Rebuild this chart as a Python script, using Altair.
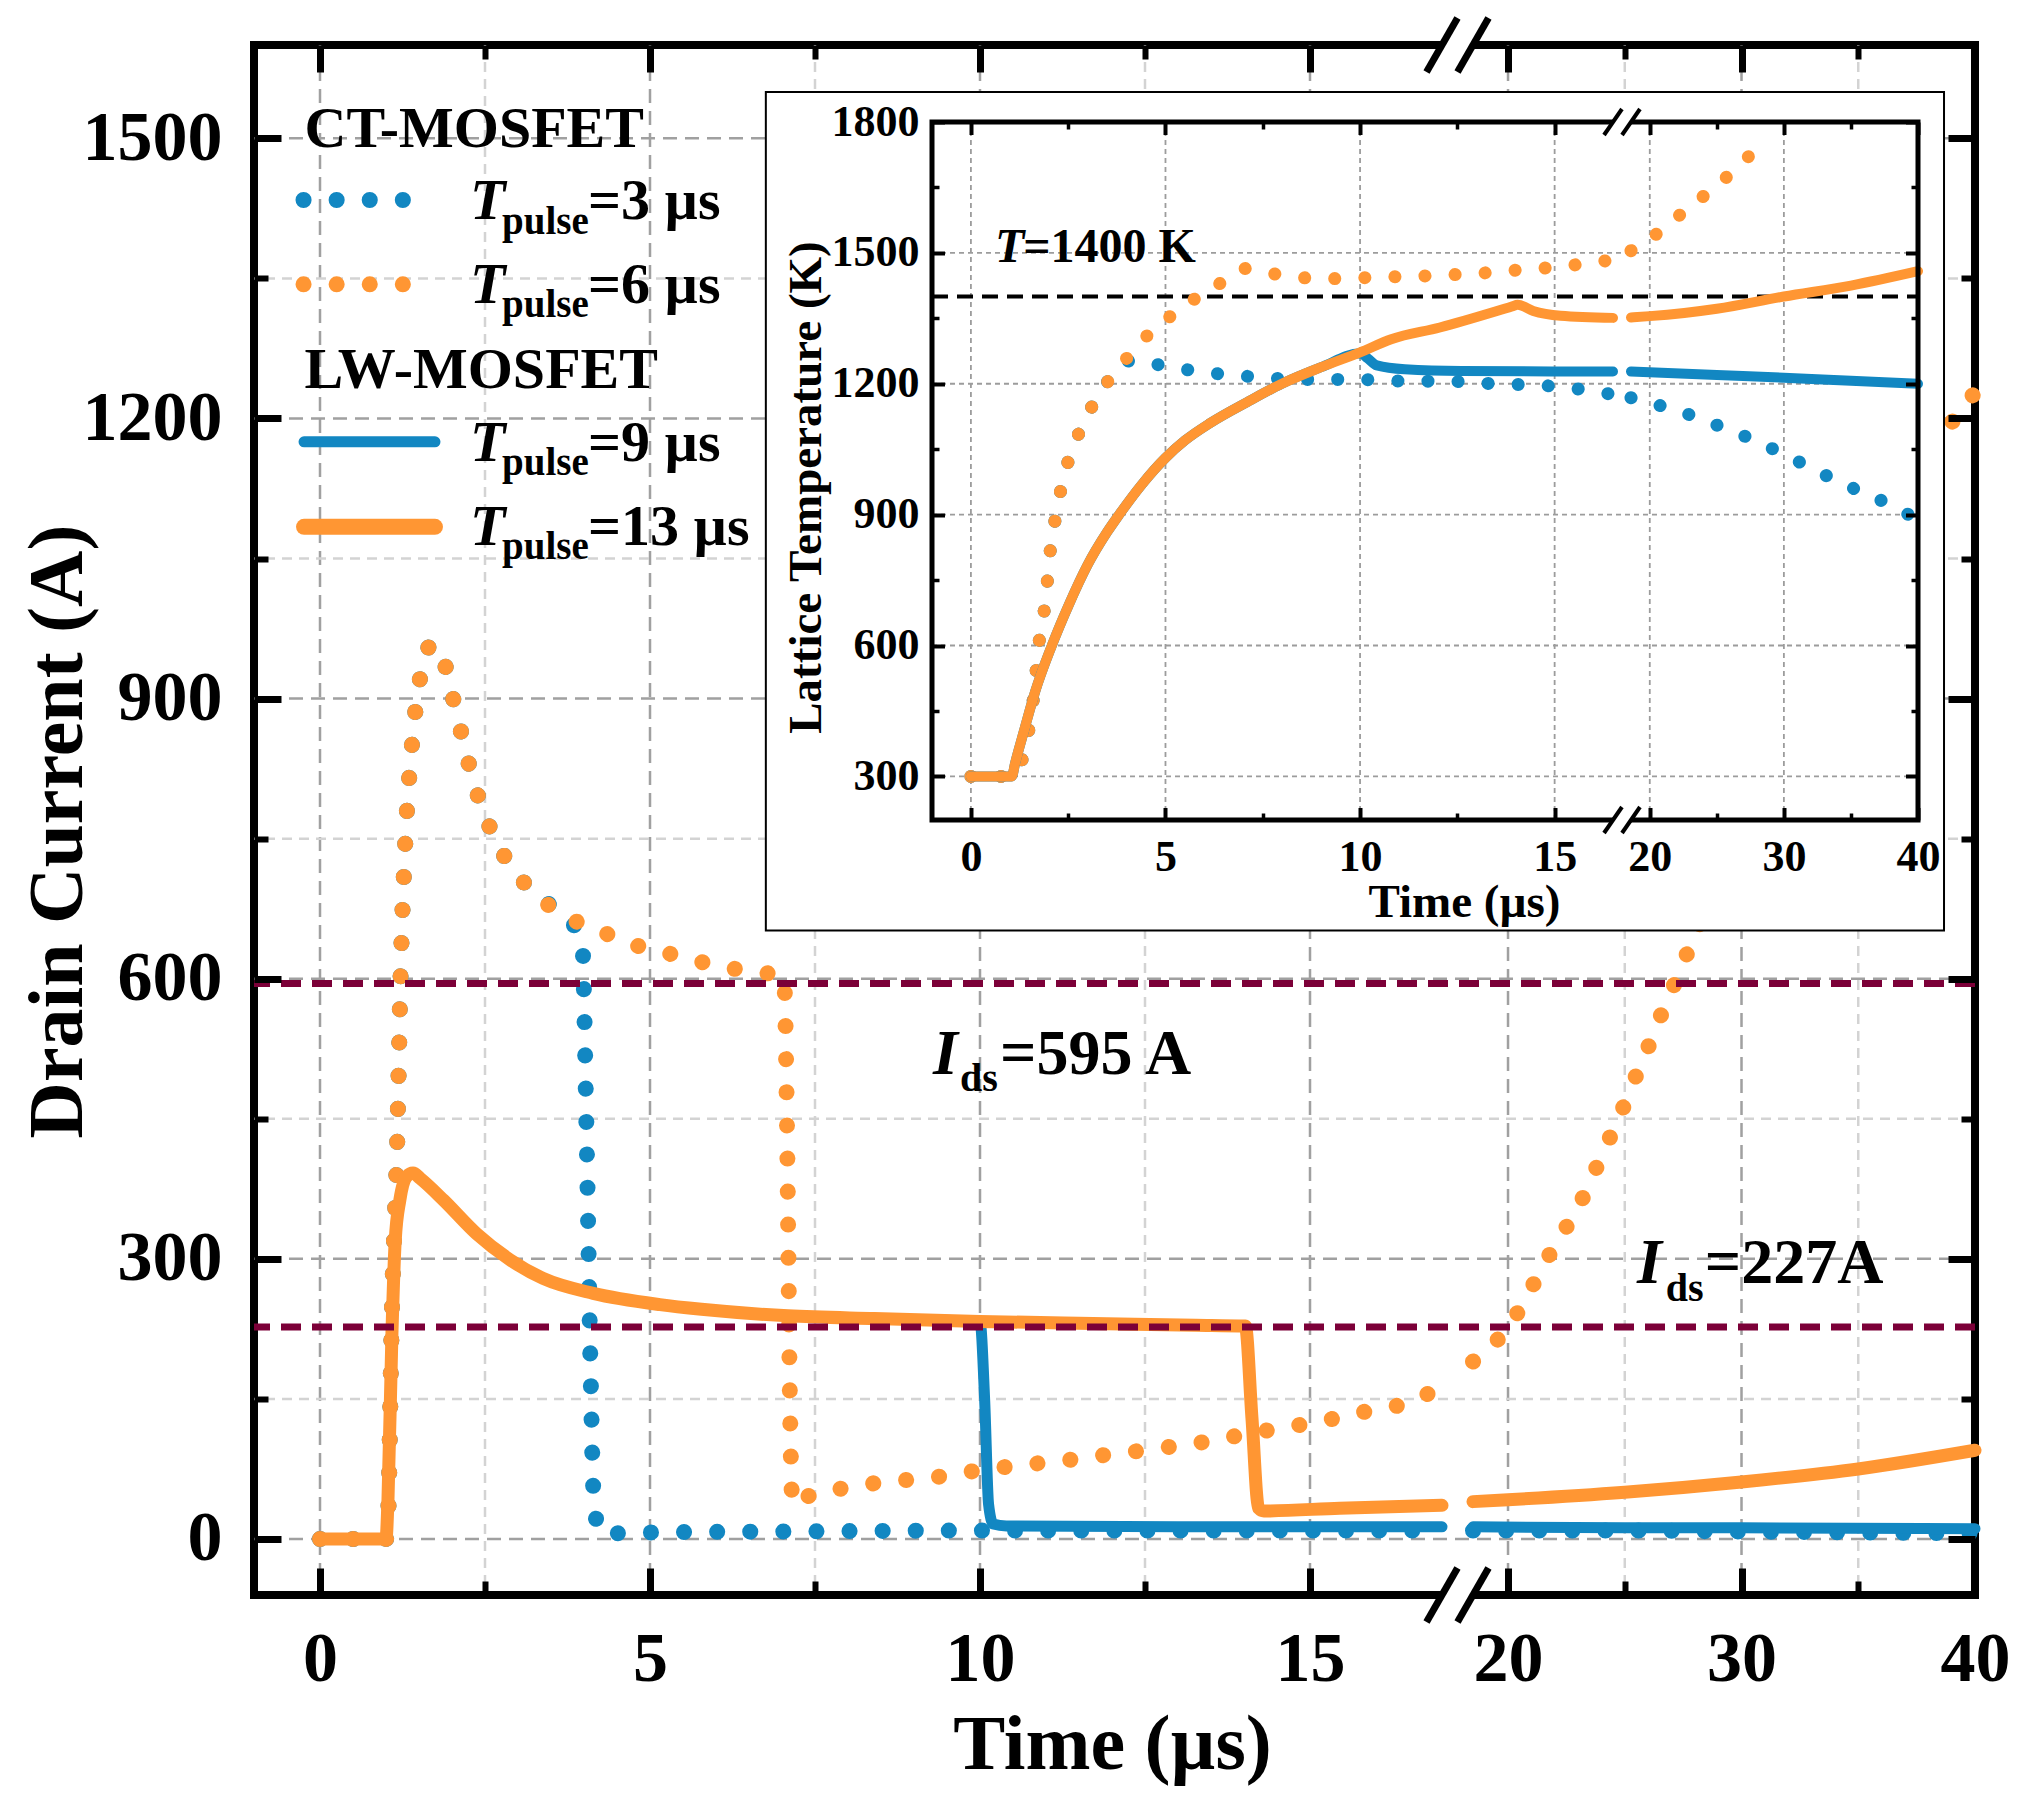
import altair as alt
import pandas as pd

# ---- main panel: drain current (A) against time (us) ----
# CT-MOSFET, T_pulse = 3 us (dotted blue)
ct3_t = [0, 1.0, 1.03, 1.09, 1.17, 1.22, 1.29, 1.39, 1.51, 1.6, 1.72, 1.83, 1.96, 2.07, 2.19, 2.31,
         2.48, 2.67, 2.93, 3.29, 3.72, 3.97, 4.04, 4.1, 4.15, 4.25, 5, 7, 10, 13, 17, 18.5, 25, 30, 35, 40]
ct3_i = [0, 0, 20, 246, 425, 600, 742, 848, 919, 950, 958, 951, 917, 884, 849, 815,
         779, 747, 717, 689, 666, 642, 430, 180, 40, 6, 7, 8, 9, 9, 9, 9, 9, 8, 7, 6]
# CT-MOSFET, T_pulse = 6 us (dotted orange)
ct6_t = [0, 1.0, 1.03, 1.09, 1.17, 1.22, 1.29, 1.39, 1.51, 1.6, 1.72, 1.83, 1.96, 2.07, 2.19, 2.31,
         2.48, 2.67, 2.93, 3.29, 3.72, 4.22, 4.68, 5.18, 5.66, 6.16, 6.54, 7.03, 7.08, 7.12, 7.16, 7.3,
         7.53, 8.02, 8.52, 9.02, 9.52, 10.02, 10.5, 11.0, 11.5, 12.0, 12.5, 13.0, 13.5, 14.0, 14.5, 15.0,
         15.5, 16.0, 16.5, 16.9, 17.0, 18.5, 19.1, 20.2, 20.9, 21.56, 22.3, 23.04, 23.63, 24.2, 24.8,
         25.33, 25.88, 26.4, 26.97, 27.5, 28.05, 29, 30, 31, 32, 33, 34, 35, 36, 37, 38, 38.8, 39.6, 40]
ct6_i = [0, 0, 20, 246, 425, 600, 742, 848, 919, 950, 958, 951, 917, 884, 849, 815,
         779, 747, 717, 689, 667, 652, 638, 629, 620, 612, 608, 602, 420, 150, 37, 42,
         50, 55, 61, 64, 68, 74, 78, 82, 86, 91, 95, 100, 105, 112, 118, 124,
         131, 139, 146, 160, 164, 190, 202, 234, 264, 295, 326, 357, 389, 421, 454,
         487, 519, 552, 585, 617, 649, 705, 760, 812, 862, 912, 960, 1005, 1050, 1100, 1150, 1188, 1215, 1228]
# LW-MOSFET, T_pulse = 9 us (solid blue)
lw9_t = [0, 1.0, 1.03, 1.09, 1.14, 1.21, 1.31, 1.41, 1.52, 1.87, 2.37, 2.88, 3.38, 4.14, 5.15, 5.78,
         7.09, 8.4, 10.0, 10.07, 10.13, 10.2, 10.4, 13, 17.0, 18.5, 25, 30, 40]
lw9_i = [0, 0, 42, 220, 320, 363, 388, 392, 386, 363, 327, 299, 279, 263, 251, 246,
         239, 236, 233, 150, 37, 16, 14, 13, 13, 13, 12, 12, 11]
# LW-MOSFET, T_pulse = 13 us (solid orange)
lw13_t = [0, 1.0, 1.03, 1.09, 1.14, 1.21, 1.31, 1.41, 1.52, 1.87, 2.37, 2.88, 3.38, 4.14, 5.15, 5.78,
          7.09, 8.4, 10.0, 11.5, 13.27, 14.02, 14.12, 14.22, 14.3, 15.45, 17.0, 18.5,
          20, 25, 30, 35, 40]
lw13_i = [0, 0, 42, 220, 320, 363, 388, 392, 386, 363, 327, 299, 279, 263, 251, 246,
          239, 236, 233, 231, 229, 228, 130, 33, 30, 33, 36, 40,
          42, 50, 61, 75, 95]

# ---- inset: lattice temperature (K) against time (us) ----
in_ct3_t = [0, 0.8, 1.1, 1.29, 1.48, 1.6, 1.75, 1.88, 1.96, 2.03, 2.15, 2.29, 2.47, 2.73, 3.04, 3.43,
            3.88, 4.2, 4.5, 5.28, 6.06, 6.82, 7.6, 8.37, 9.15, 9.92, 10.7, 11.47, 12.23, 13.0, 13.77,
            14.54, 15.32, 16.08, 16.5, 18.6, 20.3, 22.4, 24.5, 26.6, 28.6, 30.6, 32.6, 34.6, 36.6, 39.3]
in_ct3_k = [300, 300, 305, 332, 403, 474, 606, 677, 743, 810, 881, 948, 1013, 1077, 1136, 1194,
            1245, 1254, 1249, 1236, 1226, 1219, 1214, 1210, 1210, 1210, 1207, 1206, 1206, 1202, 1199,
            1197, 1191, 1182, 1175, 1168, 1154, 1135, 1111, 1086, 1059, 1029, 998, 968, 942, 900]
in_ct6_t = [0, 0.8, 1.1, 1.29, 1.48, 1.6, 1.75, 1.88, 1.96, 2.03, 2.15, 2.29, 2.47, 2.73, 3.04, 3.43,
            3.88, 4.39, 4.99, 5.64, 6.32, 7.01, 7.78, 8.54, 9.29, 10.05, 10.85, 11.63, 12.4, 13.19,
            13.95, 14.71, 15.48, 16.25, 16.5, 18.6, 20.1, 21.8, 23.5, 25.2, 26.8, 28.5]
in_ct6_k = [300, 300, 305, 332, 403, 474, 606, 677, 743, 810, 881, 948, 1013, 1077, 1136, 1194,
            1245, 1298, 1345, 1388, 1425, 1464, 1452, 1443, 1441, 1443, 1445, 1447, 1450, 1454,
            1460, 1465, 1472, 1481, 1484, 1505, 1534, 1576, 1618, 1659, 1705, 1752]
in_lw9_t = [0, 1.05, 1.14, 1.36, 1.65, 2.08, 2.5, 3.0, 3.5, 3.81, 4.4, 5.0, 5.5, 6.15, 7.1, 7.99, 9.0,
            10.0, 10.2, 10.43, 11.15, 12.6, 16.5, 18.6, 25, 30, 35, 40]
in_lw9_k = [300, 300, 332, 403, 494, 600, 690, 785, 860, 900, 970, 1030, 1070, 1110, 1158, 1200, 1238,
            1270, 1258, 1242, 1233, 1229, 1228, 1228, 1220, 1214, 1207, 1200]
in_lw13_t = [0, 1.05, 1.14, 1.36, 1.65, 2.08, 2.5, 3.0, 3.5, 3.81, 4.4, 5.0, 5.5, 6.15, 7.1, 7.99, 9.0,
             10.0, 10.8, 12.05, 13.9, 14.05, 14.45, 15.15, 16.5, 18.6, 20, 25, 30, 35, 40]
in_lw13_k = [300, 300, 332, 403, 494, 600, 690, 785, 860, 900, 970, 1030, 1070, 1110, 1158, 1200, 1238,
             1272, 1302, 1329, 1377, 1381, 1367, 1356, 1351, 1352, 1355, 1372, 1400, 1425, 1458]

# ticks and reference levels
main_x_major = [0, 5, 10, 15, 20, 30, 40]
main_x_minor = [2.5, 7.5, 12.5, 25, 35]
main_y_major = [0, 300, 600, 900, 1200, 1500]
main_y_minor = [150, 450, 750, 1050, 1350]
in_x_major = [0, 5, 10, 15, 20, 30, 40]
in_x_minor = [2.5, 7.5, 12.5, 25, 35]
in_y_major = [300, 600, 900, 1200, 1500, 1800]
in_y_minor = [450, 750, 1050, 1350, 1650]
current_limits = [595, 227]
temp_limit = [1400]

FONT = "Liberation Serif"
BLUE = "#1287c2"
ORANGE = "#ff9633"
WINE = "#7c0038"
W, H = 1721, 1550


# scales: both time axes are broken, so they are piecewise linear
def sx_main():
    return alt.Scale(domain=[-1, 17, 18.5, 40], range=[0, 1188, 1219, W], nice=False, zero=False)


def sy_main():
    return alt.Scale(domain=[-60, 1600], range=[H, 0], nice=False, zero=False)


def sx_in():
    return alt.Scale(domain=[-1, 16.5, 18.6, 40], range=[678, 1359, 1377, 1664], nice=False, zero=False)


def sy_in():
    return alt.Scale(domain=[200, 1800], range=[775, 77], nice=False, zero=False)


def xy(sx, sy, xf="t", yf="v", ax=None, ay=None):
    return dict(x=alt.X(xf, type="quantitative", scale=sx(), axis=ax),
                y=alt.Y(yf, type="quantitative", scale=sy(), axis=ay))


def curve(ts, vs, cut, sx, sy, color, width, dot_gap=None):
    df = pd.DataFrame({"t": ts, "v": vs})
    df["seg"] = (df["t"] > cut).astype(int)
    style = dict(color=color, strokeWidth=width, strokeJoin="round", strokeCap="round",
                 interpolate="monotone")
    if dot_gap:
        style["strokeDash"] = [0.1, dot_gap]
    return alt.Chart(df).mark_line(**style).encode(detail="seg:N", **xy(sx, sy))


def words(rows, sx, sy, size, italic=False):
    df = pd.DataFrame(rows, columns=["t", "v", "s"])
    return alt.Chart(df).mark_text(
        font=FONT, fontSize=size, fontWeight="bold", fontStyle="italic" if italic else "normal",
        align="left", baseline="alphabetic", color="black"
    ).encode(text="s:N", **xy(sx, sy))


def hseg(t0, t1, v, sx, sy, **style):
    df = pd.DataFrame({"t": [t0], "t2": [t1], "v": [v]})
    return alt.Chart(df).mark_rule(**style).encode(x2="t2:Q", **xy(sx, sy))


def tick_axis(orient, vals, size, width, offset):
    return alt.Axis(orient=orient, values=vals, tickSize=size, tickWidth=width, tickColor="black",
                    offset=offset, labels=False, domain=False, grid=False, title=None, zindex=2)


anchor = pd.DataFrame({"t": [0.0], "v": [300.0]})


def carrier(sx, sy, ax, ay):
    return alt.Chart(anchor).mark_point(opacity=0).encode(**xy(sx, sy, ax=ax, ay=ay))


label_style = dict(ticks=False, tickSize=0, domain=False, grid=False, labelFlush=False,
                   labelOverlap=False, format="d", labelFont=FONT, labelFontWeight="bold",
                   labelColor="black", titleFont=FONT, titleFontWeight="bold", titleColor="black",
                   titleAlign="center", titleBaseline="alphabetic", zindex=2)

layers = []

# main grid (the frame itself stands at t = 40)
for vals, col, dash in [(main_x_major[:-1], "#a0a0a0", [14, 8]), (main_x_minor, "#d3d3d3", [10, 7])]:
    layers.append(alt.Chart(pd.DataFrame({"t": vals})).mark_rule(
        color=col, strokeWidth=2.5, strokeDash=dash).encode(x=alt.X("t:Q", scale=sx_main(), axis=None)))
for vals, col, dash in [(main_y_major, "#a0a0a0", [14, 8]), (main_y_minor, "#d3d3d3", [10, 7])]:
    layers.append(alt.Chart(pd.DataFrame({"v": vals})).mark_rule(
        color=col, strokeWidth=2.5, strokeDash=dash).encode(y=alt.Y("v:Q", scale=sy_main(), axis=None)))

# main curves
layers.append(curve(ct3_t, ct3_i, 17.5, sx_main, sy_main, BLUE, 16, 33))
layers.append(curve(ct6_t, ct6_i, 17.5, sx_main, sy_main, ORANGE, 16, 33))
layers.append(curve(lw9_t, lw9_i, 17.5, sx_main, sy_main, BLUE, 11))
layers.append(curve(lw13_t, lw13_i, 17.5, sx_main, sy_main, ORANGE, 13))

# current limits
layers.append(alt.Chart(pd.DataFrame({"v": current_limits})).mark_rule(
    color=WINE, strokeWidth=7, strokeDash=[20, 11]).encode(y=alt.Y("v:Q", scale=sy_main(), axis=None)))
layers.append(words([[9.288, 498.5, "I"], [25.52, 274.1, "I"]], sx_main, sy_main, 64, italic=True))
layers.append(words([[9.697, 480.1, "ds"], [26.76, 254.8, "ds"]], sx_main, sy_main, 40))
layers.append(words([[10.303, 498.5, "=595 A"], [28.43, 274.1, "=227A"]], sx_main, sy_main, 64))

# legend
layers.append(hseg(-0.25, 1.265, 1434.0, sx_main, sy_main, color=BLUE, strokeWidth=16,
                   strokeDash=[0.1, 33], strokeCap="round"))
layers.append(hseg(-0.25, 1.265, 1343.7, sx_main, sy_main, color=ORANGE, strokeWidth=16,
                   strokeDash=[0.1, 33], strokeCap="round"))
layers.append(hseg(-0.242, 1.742, 1175.0, sx_main, sy_main, color=BLUE, strokeWidth=11, strokeCap="round"))
layers.append(hseg(-0.242, 1.742, 1084.0, sx_main, sy_main, color=ORANGE, strokeWidth=16, strokeCap="round"))
layers.append(words([[-0.235, 1491.1, "CT-MOSFET"], [-0.235, 1233.0, "LW-MOSFET"]], sx_main, sy_main, 58))
legend_v = [1413.7, 1324.0, 1155.0, 1064.7]
legend_sub_v = [1397.9, 1308.3, 1139.3, 1049.0]
legend_text = ["=3 µs", "=6 µs", "=9 µs", "=13 µs"]
layers.append(words([[2.273, v, "T"] for v in legend_v], sx_main, sy_main, 58, italic=True))
layers.append(words([[2.758, v, "pulse"] for v in legend_sub_v], sx_main, sy_main, 39))
layers.append(words([[4.061, v, s] for v, s in zip(legend_v, legend_text)], sx_main, sy_main, 58))

# main axis break
SLASH_MAIN = "M-0.574,1L0.574,-1"
SLASH_IN = "M-0.69,1L0.69,-1"
for v in [-60, 1600]:
    layers.append(hseg(17, 18.5, v, sx_main, sy_main, color="white", strokeWidth=12))
layers.append(alt.Chart(pd.DataFrame({"t": [17, 18.5, 17, 18.5], "v": [-60, -60, 1600, 1600]})).mark_point(
    shape=SLASH_MAIN, filled=False, color="black", strokeWidth=7, size=2916, opacity=1
).encode(**xy(sx_main, sy_main)))

# inset background and grid
layers.append(alt.Chart(pd.DataFrame({"t": [-5.27], "t2": [41.94], "v": [-53.3], "v2": [1868.8]})).mark_rect(
    fill="white", stroke="black", strokeWidth=2).encode(x2="t2:Q", y2="v2:Q", **xy(sx_in, sy_in)))
layers.append(alt.Chart(pd.DataFrame({"t": in_x_major, "v": 200, "v2": 1800})).mark_rule(
    color="#9c9c9c", strokeWidth=1.8, strokeDash=[5, 4]).encode(y2="v2:Q", **xy(sx_in, sy_in)))
layers.append(alt.Chart(pd.DataFrame({"t": -1, "t2": 40, "v": in_y_major})).mark_rule(
    color="#9c9c9c", strokeWidth=1.8, strokeDash=[5, 4]).encode(x2="t2:Q", **xy(sx_in, sy_in)))
layers.append(hseg(-1, 40, temp_limit[0], sx_in, sy_in, color="black", strokeWidth=4, strokeDash=[16, 9]))

# inset curves
layers.append(curve(in_ct3_t, in_ct3_k, 17.5, sx_in, sy_in, BLUE, 13, 30))
layers.append(curve(in_ct6_t, in_ct6_k, 17.5, sx_in, sy_in, ORANGE, 13, 30))
layers.append(curve(in_lw9_t, in_lw9_k, 17.5, sx_in, sy_in, BLUE, 10))
layers.append(curve(in_lw13_t, in_lw13_k, 17.5, sx_in, sy_in, ORANGE, 10))

# inset frame and break
layers.append(alt.Chart(pd.DataFrame({"t": [-1], "t2": [40], "v": [200], "v2": [1800]})).mark_rect(
    fillOpacity=0, stroke="black", strokeWidth=5).encode(x2="t2:Q", y2="v2:Q", **xy(sx_in, sy_in)))
for v in [200, 1800]:
    layers.append(hseg(16.5, 18.6, v, sx_in, sy_in, color="white", strokeWidth=8))
layers.append(alt.Chart(pd.DataFrame({"t": [16.5, 18.6, 16.5, 18.6], "v": [200, 200, 1800, 1800]})).mark_point(
    shape=SLASH_IN, filled=False, color="black", strokeWidth=4, size=676, opacity=1
).encode(**xy(sx_in, sy_in)))
layers.append(words([[0.62, 1478.2, "T"]], sx_in, sy_in, 48, italic=True))
layers.append(words([[1.342, 1478.2, "=1400 K"]], sx_in, sy_in, 48))

# main axes: labels, then inward ticks on all four sides
layers.append(carrier(
    sx_main, sy_main,
    alt.Axis(orient="bottom", values=main_x_major, labelFontSize=70, labelPadding=30,
             title="Time (µs)", titleFontSize=78, titleX=858, titleY=173, **label_style),
    alt.Axis(orient="left", values=main_y_major, labelFontSize=70, labelPadding=32,
             title="Drain Current (A)", titleFontSize=78, titleX=-173, titleY=786, titleAngle=270,
             **label_style)))
for orient_x, orient_y in [("bottom", "left"), ("top", "right")]:
    layers.append(carrier(sx_main, sy_main,
                          tick_axis(orient_x, main_x_major, 27, 7, -27),
                          tick_axis(orient_y, main_y_major, 27, 7, -27)))
    layers.append(carrier(sx_main, sy_main,
                          tick_axis(orient_x, main_x_minor, 14, 6, -14),
                          tick_axis(orient_y, main_y_minor, 14, 6, -14)))

# inset axes
layers.append(carrier(
    sx_in, sy_in,
    alt.Axis(orient="bottom", offset=-775, values=in_x_major, labelFontSize=44, labelPadding=15,
             title="Time (µs)", titleFontSize=47, titleX=1210, titleY=96, **label_style),
    alt.Axis(orient="left", offset=-678, values=in_y_major, labelFontSize=44, labelPadding=13,
             title="Lattice Temperature (K)", titleFontSize=47, titleX=-112, titleY=442, titleAngle=270,
             **label_style)))
layers.append(carrier(sx_in, sy_in, tick_axis("bottom", in_x_major, 12.5, 4, -787.5),
                      tick_axis("left", in_y_major, 12.5, 4, -690.5)))
layers.append(carrier(sx_in, sy_in, tick_axis("bottom", in_x_minor, 7, 3.5, -782),
                      tick_axis("left", in_y_minor, 7, 3.5, -685)))
layers.append(carrier(sx_in, sy_in, tick_axis("top", in_x_major, 12.5, 4, -89.5),
                      tick_axis("right", in_y_major, 12.5, 4, -69.5)))
layers.append(carrier(sx_in, sy_in, tick_axis("top", in_x_minor, 7, 3.5, -84),
                      tick_axis("right", in_y_minor, 7, 3.5, -64)))

chart = alt.layer(*layers).properties(
    width=W, height=H,
    autosize=alt.AutoSizeParams(type="none"),
    padding={"left": 246, "top": 37, "right": 47, "bottom": 195},
    background="white",
).resolve_scale(x="independent", y="independent").resolve_axis(
    x="independent", y="independent"
).configure_view(stroke="black", strokeWidth=8)

chart.save("out.html", embed_options={"renderer": "svg", "actions": False})
